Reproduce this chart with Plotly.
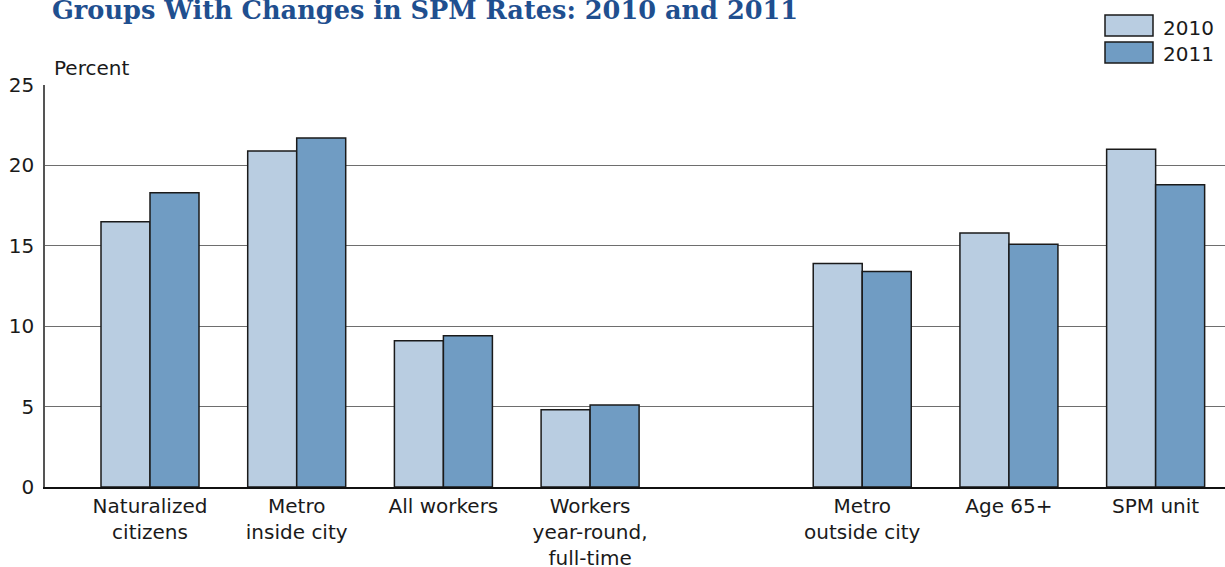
import plotly.graph_objects as go

# Groups and SPM poverty rates (percent)
categories = [
    "Naturalized<br>citizens",
    "Metro<br>inside city",
    "All workers",
    "Workers<br>year-round,<br>full-time",
    "Metro<br>outside city",
    "Age 65+",
    "SPM unit",
]
rates_2010 = [16.5, 20.9, 9.1, 4.8, 13.9, 15.8, 21.0]
rates_2011 = [18.3, 21.7, 9.4, 5.1, 13.4, 15.1, 18.8]
series_names = ["2010", "2011"]

# Groups that rose are drawn first, groups that fell after a wider gap
n_up = 4
split_gap = 0.855
xpos = [i if i < n_up else i + split_gap for i in range(len(categories))]

color_2010 = "#b9cde1"
color_2011 = "#709cc3"
edge = "#1a1a1a"
bar_w = 0.334

W, H = 1225, 567
ML, MR, MT, MB = 45, 0, 85, 80
pw, ph = W - ML - MR, H - MT - MB


def px_x(p):
    return (p - ML) / pw


def px_y(p):
    return (H - MB - p) / ph


fig = go.Figure()
fig.add_trace(go.Bar(
    x=xpos, y=rates_2010, name=series_names[0], width=bar_w, offset=-bar_w,
    marker=dict(color=color_2010, line=dict(color=edge, width=1.5)),
))
fig.add_trace(go.Bar(
    x=xpos, y=rates_2011, name=series_names[1], width=bar_w, offset=0,
    marker=dict(color=color_2011, line=dict(color=edge, width=1.5)),
))

font_main = dict(family="DejaVu Sans", size=20, color="#1a1a1a")

fig.update_layout(
    width=W, height=H,
    margin=dict(l=ML, r=MR, t=MT, b=MB, pad=0, autoexpand=False),
    paper_bgcolor="white", plot_bgcolor="white",
    barmode="overlay",
    showlegend=False,
    font=font_main,
    title=dict(
        text="<b>Groups With Changes in SPM Rates: 2010 and 2011</b>",
        font=dict(family="DejaVu Serif", size=25.6, color="#1f4f8f"),
        xref="container", yref="container",
        x=52 / W, xanchor="left",
        y=1 - 18.5 / H, yanchor="bottom",
        automargin=False,
    ),
    xaxis=dict(
        range=[-105 / 146.7, (W - 150) / 146.7],
        tickmode="array", tickvals=xpos, ticktext=categories,
        showgrid=False, zeroline=False,
        showline=True, linecolor="#111111", linewidth=1.5,
        ticks="", tickfont=font_main,
        automargin=False,
    ),
    yaxis=dict(
        range=[0, 25], tickvals=[0, 5, 10, 15, 20, 25],
        showgrid=True, gridcolor="#6e6e6e", gridwidth=1,
        zeroline=False,
        showline=True, linecolor="#555555", linewidth=1.5,
        ticks="", tickfont=font_main, ticklabelstandoff=5,
        automargin=False,
    ),
)

# y-axis unit label
fig.add_annotation(
    text="Percent", xref="paper", yref="paper",
    x=px_x(52), y=px_y(82), xanchor="left", yanchor="bottom",
    showarrow=False, font=font_main,
)

# legend swatches and labels
legend_rows = [(15, 36, color_2010, 2.5), (42, 63, color_2011, 1.5)]
for (top, bottom, col, dy), name in zip(legend_rows, series_names):
    fig.add_shape(
        type="rect", xref="paper", yref="paper",
        x0=px_x(1105), x1=px_x(1153), y0=px_y(bottom), y1=px_y(top),
        fillcolor=col, line=dict(color=edge, width=1.5),
    )
    fig.add_annotation(
        text=name, xref="paper", yref="paper",
        x=px_x(1161), y=px_y((top + bottom) / 2 + dy),
        xanchor="left", yanchor="middle", showarrow=False, font=font_main,
    )

fig.write_html("out.html")
